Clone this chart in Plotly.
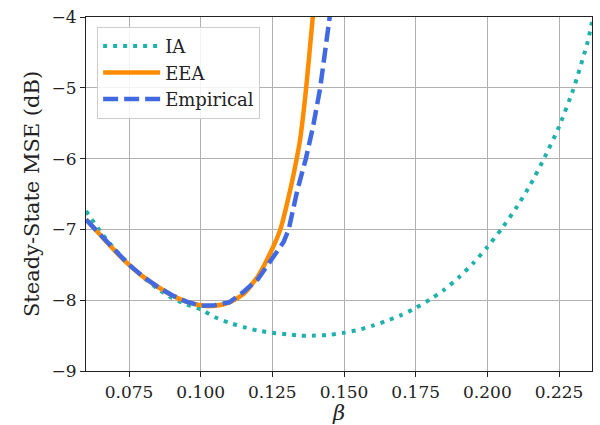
import plotly.graph_objects as go

# IA (dotted)
ia_beta = [0.06, 0.065, 0.07, 0.075, 0.08, 0.085, 0.09, 0.095, 0.10, 0.105, 0.11, 0.115,
           0.12, 0.125, 0.13, 0.135, 0.14, 0.145, 0.15, 0.155, 0.16, 0.165, 0.17, 0.175,
           0.18, 0.185, 0.19, 0.195, 0.20, 0.205, 0.21, 0.215, 0.22, 0.225, 0.23, 0.235, 0.2365]
ia_mse = [-6.74, -7.03, -7.28, -7.49, -7.68, -7.84, -7.97, -8.06, -8.13, -8.24, -8.32, -8.38,
          -8.43, -8.46, -8.48, -8.50, -8.50, -8.49, -8.46, -8.42, -8.36, -8.29, -8.21, -8.11,
          -7.99, -7.85, -7.68, -7.48, -7.25, -6.99, -6.70, -6.37, -5.98, -5.55, -5.02, -4.35, -4.07]

# EEA (solid)
eea_beta = [0.06, 0.065, 0.07, 0.075, 0.08, 0.085, 0.09, 0.095, 0.10, 0.105, 0.11, 0.115,
            0.12, 0.1249, 0.1278, 0.1313, 0.1335, 0.1347, 0.1368, 0.1391, 0.1405]
eea_mse = [-6.86, -7.08, -7.30, -7.50, -7.67, -7.81, -7.93, -8.02, -8.07, -8.08, -8.03, -7.91,
           -7.66, -7.28, -7.00, -6.43, -6.00, -5.73, -5.00, -4.00, -3.40]

# Empirical (dashed)
emp_beta = [0.06, 0.065, 0.07, 0.075, 0.08, 0.085, 0.09, 0.095, 0.10, 0.105, 0.11, 0.115,
            0.12, 0.125, 0.1289, 0.1307, 0.1337, 0.1367, 0.1392, 0.1417, 0.1435, 0.1451, 0.1465]
emp_mse = [-6.86, -7.08, -7.30, -7.50, -7.67, -7.81, -7.93, -8.02, -8.08, -8.07, -8.03, -7.88,
           -7.70, -7.42, -7.18, -7.00, -6.45, -6.00, -5.55, -5.00, -4.50, -4.00, -3.55]

FONT = "'DejaVu Serif', 'Liberation Serif', 'Times New Roman', serif"

fig = go.Figure()
fig.add_trace(go.Scatter(x=ia_beta, y=ia_mse, mode="lines", name="IA",
                         line=dict(color="#20B2AA", width=4, dash="4px,6px", shape="spline", smoothing=0.5)))
fig.add_trace(go.Scatter(x=eea_beta, y=eea_mse, mode="lines", name="EEA",
                         line=dict(color="#FF8C00", width=4.5, shape="spline", smoothing=0.6)))
fig.add_trace(go.Scatter(x=emp_beta, y=emp_mse, mode="lines", name="Empirical",
                         line=dict(color="#4169E1", width=4.5, dash="15px,6px")))

axis_common = dict(showline=True, linecolor="#222", linewidth=1.2, mirror=True,
                   showgrid=True, gridcolor="#b0b0b0", gridwidth=1,
                   ticks="outside", ticklen=5, tickcolor="#222", zeroline=False,
                   tickfont=dict(family=FONT, size=17, color="#222"))

fig.update_xaxes(range=[0.06, 0.2365], tickvals=[0.075, 0.1, 0.125, 0.15, 0.175, 0.2, 0.225],
                 ticktext=["0.075", "0.100", "0.125", "0.150", "0.175", "0.200", "0.225"],
                 title=dict(text="<i>β</i>", font=dict(family=FONT, size=21, color="#222"), standoff=2),
                 **axis_common)
fig.update_yaxes(range=[-9, -4], tickvals=[-9, -8, -7, -6, -5, -4],
                 title=dict(text="Steady-State MSE (dB)", font=dict(family=FONT, size=21, color="#222"), standoff=6),
                 **axis_common)

fig.update_layout(
    width=600, height=425,
    margin=dict(l=86, r=7, t=17, b=52),
    plot_bgcolor="white", paper_bgcolor="white",
    legend=dict(x=0.022, y=0.972, xanchor="left", yanchor="top", itemwidth=57,
                bgcolor="rgba(255,255,255,0.85)", bordercolor="#cccccc", borderwidth=1,
                font=dict(family=FONT, size=18, color="#222")),
)

fig.write_html("out.html")
